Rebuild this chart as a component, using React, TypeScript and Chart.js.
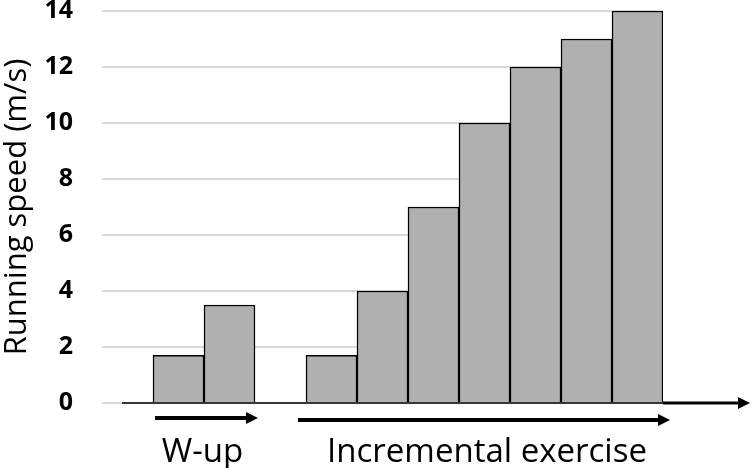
import React, { useEffect, useRef } from "react";
import { Chart, registerables } from "chart.js";

Chart.register(...registerables);

const categories = ["", "W1", "W2", "", "S1", "S2", "S3", "S4", "S5", "S6", "S7"];
const speeds: (number | null)[] = [null, 1.7, 3.5, null, 1.7, 4, 7, 10, 12, 13, 14];
const yTicks = [0, 2, 4, 6, 8, 10, 12, 14];
const yTitle = "Running speed (m/s)";
const phaseLabels = ["W-up", "Incremental exercise"];
// phases as category index ranges [first, last]
const phaseRanges: [number, number][] = [[1, 2], [4, 10]];

const FONT = "'Open Sans', sans-serif";

function drawArrow(ctx: CanvasRenderingContext2D, x1: number, x2: number, y: number, lw: number, head: number, headH: number) {
  ctx.save();
  ctx.strokeStyle = "#000";
  ctx.fillStyle = "#000";
  ctx.lineWidth = lw;
  ctx.beginPath();
  ctx.moveTo(x1, y);
  ctx.lineTo(x2 - head + 1, y);
  ctx.stroke();
  ctx.beginPath();
  ctx.moveTo(x2, y);
  ctx.lineTo(x2 - head, y - headH / 2);
  ctx.lineTo(x2 - head, y + headH / 2);
  ctx.closePath();
  ctx.fill();
  ctx.restore();
}

const annotations = {
  id: "annotations",
  beforeDatasetsDraw(chart: any) {
    const { ctx, scales } = chart;
    const x = scales.x;
    const y = scales.y;
    const y0 = y.getPixelForValue(0);
    const half = (x.getPixelForValue(1) - x.getPixelForValue(0)) / 2;
    ctx.save();
    ctx.strokeStyle = "#000";
    ctx.lineWidth = 1.5;
    ctx.beginPath();
    ctx.moveTo(x.getPixelForValue(0) - half + 20, y0);
    ctx.lineTo(x.getPixelForValue(categories.length - 1) + half, y0);
    ctx.stroke();
    ctx.restore();
  },
  afterDraw(chart: any) {
    const { ctx, scales } = chart;
    const x = scales.x;
    const y = scales.y;
    const y0 = y.getPixelForValue(0);
    const half = (x.getPixelForValue(1) - x.getPixelForValue(0)) / 2;
    const right = x.getPixelForValue(categories.length - 1) + half;
    // axis continuation arrow
    drawArrow(ctx, right, chart.width - 6, y0, 3, 12, 12);
    // phase arrows + labels
    phaseRanges.forEach((r, i) => {
      const a = x.getPixelForValue(r[0]) - half;
      const b = x.getPixelForValue(r[1]) + half;
      const ay = y0 + 15 + i * 2;
      const start = i === 0 ? a + 2 : a - 8;
      const end = i === 0 ? b + 3 : b + 7;
      drawArrow(ctx, start, end, ay, 4, 12, 12);
      ctx.save();
      ctx.fillStyle = "#000";
      ctx.font = `33px ${FONT}`;
      ctx.textAlign = "center";
      ctx.textBaseline = "alphabetic";
      ctx.fillText(phaseLabels[i], (start + end) / 2 + (i === 0 ? -4 : 3), y0 + 59);
      ctx.restore();
    });
  },
};

export default function App() {
  const ref = useRef<HTMLCanvasElement>(null);
  useEffect(() => {
    document.body.style.margin = "0";
    const chart = new Chart(ref.current!, {
      type: "bar",
      data: {
        labels: categories,
        datasets: [
          {
            data: speeds,
            backgroundColor: "#b0b0b0",
            borderColor: "#000",
            borderWidth: 1.5,
            barPercentage: 1,
            categoryPercentage: 1,
          },
        ],
      },
      options: {
        animation: false,
        responsive: true,
        maintainAspectRatio: false,
        layout: { padding: { top: 11, right: 93, bottom: 65, left: 0 } },
        plugins: { legend: { display: false }, tooltip: { enabled: false } },
        scales: {
          x: { display: false },
          y: {
            min: 0,
            max: 14,
            afterBuildTicks: (s: any) => {
              s.ticks = yTicks.map((v) => ({ value: v }));
            },
            afterFit: (s: any) => {
              s.width = 102;
              s.paddingTop = 11;
              s.paddingBottom = 11;
            },
            ticks: {
              color: "#000",
              padding: 29,
              font: { family: FONT, size: 25, weight: "bold", lineHeight: 1 },
            },
            grid: { color: "#d9d9d9", lineWidth: 2, drawTicks: false },
            border: { display: false },
            title: {
              display: true,
              text: yTitle,
              color: "#000",
              padding: { top: 0, bottom: 0 },
              font: { family: FONT, size: 31, lineHeight: 1.1 },
            },
          },
        },
      },
      plugins: [annotations],
    });
    return () => chart.destroy();
  }, []);
  return (
    <div style={{ position: "fixed", left: 0, top: 0, width: 756, height: 468 }}>
      <canvas ref={ref} />
    </div>
  );
}
